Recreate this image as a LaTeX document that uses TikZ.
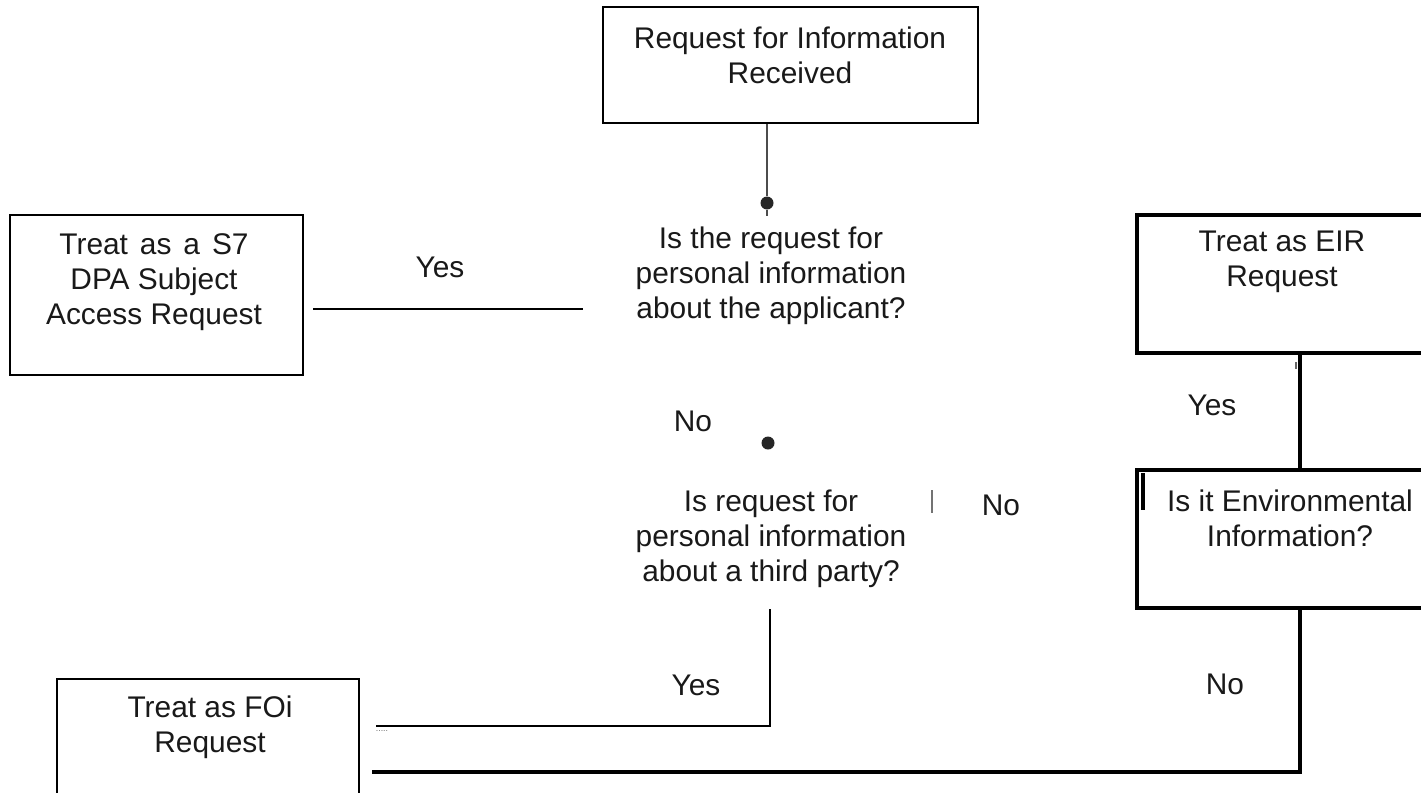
\documentclass[tikz,border=0pt]{standalone}
\usepackage{fontspec}
\setmainfont{Liberation Sans}
\usetikzlibrary{positioning}

\begin{document}
\begin{tikzpicture}[
			x=0.02cm, y=-0.02cm,
			font=\fontsize{17}{20}\selectfont,
			box/.style={
				rectangle, draw=black, line width=1.15pt,
				inner sep=0pt
			},
			heavybox/.style={box, line width=1.9pt},
			txt/.style={align=center, inner sep=1pt, black!90},
			lbl/.style={inner sep=1pt, black!90},
			dot/.style={circle, fill=black!85, inner sep=0pt, minimum size=0.26cm},
			greyln/.style={line width=0.9pt, black!70},
			midln/.style={line width=1.3pt},
			heavyln/.style={line width=1.9pt}
			]
			
			\useasboundingbox (0,0) rectangle (1421,792);
			
			%% ── Boxes ──────────────────────────────────────────────────────────
			\node[box, line width=1.3pt, minimum width=7.5cm, minimum height=2.32cm] (recv) at (790.5,65) {};
			\node[txt] (recvtxt) at (790,55) {Request for Information\\Received};
			
			\node[box, minimum width=5.86cm, minimum height=3.2cm] (s7) at (156.5,295) {};
			\node[txt] (s7txt) at (154,282) {Treat\hspace{0.4em}as\hspace{0.4em}a\hspace{0.4em}S7\\DPA Subject\\Access Request};
			
			\node[heavybox, minimum width=6.06cm, minimum height=2.76cm] (eir) at (1288.5,284) {};
			\node[txt] (eirtxt) at (1282,262) {Treat as EIR\\Request};
			
			\node[heavybox, minimum width=6.06cm, minimum height=2.76cm] (env) at (1288.5,539) {};
			\node[txt] (envtxt) at (1290,518) {Is it Environmental\\Information?};
			
			\node[box, minimum width=6.04cm, minimum height=2.42cm] (foi) at (208,739.5) {};
			\node[txt] (foitxt) at (210,727) {Treat as FOi\\Request};
			
			%% ── Questions (centre column, x=770) ───────────────────────────────
			\node[txt] (q1) at (771,276) {Is the request for\\personal information\\about the applicant?};
			\node[txt] (q2) at (771,539) {Is request for\\personal information\\about a third party?};
			
			\node[dot] (d1) at (767,203) {};
			\node[dot] (d2) at (768,443) {};
			
			%% ── Labels ─────────────────────────────────────────────────────────
			\node[lbl] (yes1) at (440,267) {Yes};
			\node[lbl] (no1)  at (693,421) {No};
			\node[lbl] (no2)  at (1001,505) {No};
			\node[lbl] (yes2) at (1212,405) {Yes};
			\node[lbl] (yes3) at (696,685) {Yes};
			\node[lbl] (no3)  at (1225,684) {No};
			
			%% ── Connector end points ───────────────────────────────────────────
			\coordinate (rx)        at (1300,0);
			\coordinate (yesL)      at (313,309);
			\coordinate (yesR)      at (583,309);
			\coordinate (q2drop)    at (770,609);
			\coordinate (yescorner) at (770,726);
			\coordinate (yesend)    at (376,726);
			\coordinate (nocorner)  at (1300,772);
			\coordinate (noend)     at (372,772);
			
			%% received -> first question
			\draw[greyln] (recv.south -| d1) -- (d1) -- ++(0,13);
			
			%% applicant -> S7
			\draw[midln] (yesL) -- (yesR);
			
			%% third party -> FOi
			\draw[midln] (q2drop) -- (yescorner) -- (yesend);
			
			%% EIR <- environmental -> FOi
			\draw[heavyln] (eir.south -| rx) -- (env.north -| rx);
			\draw[heavyln] (env.south -| rx) -- (nocorner) -- (noend);
			
			%% stray marks
			\draw[line width=1.2pt, black!55] (932,490) -- (932,513);
			\draw[line width=2.3pt] (1143,473) -- (1143,510);
			\draw[line width=0.9pt, black!60] (1296,362) -- (1296,369);
			\node[font=\fontsize{5}{5}\selectfont, black!60, inner sep=0pt] (dots) at (382,731) {.....};
			
		\end{tikzpicture}
\end{document}
